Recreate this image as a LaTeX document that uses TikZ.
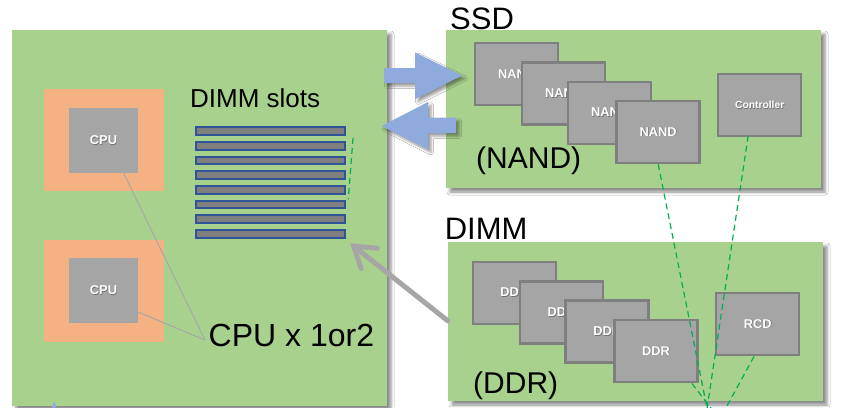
\documentclass[tikz,border=0pt]{standalone}
\usepackage{fontspec}
\setmainfont{Liberation Sans}
\usetikzlibrary{arrows.meta,shadows.blur,calc}

\definecolor{board}{HTML}{A9D18E}
\definecolor{socket}{HTML}{F4B183}
\definecolor{chipfill}{HTML}{A5A5A5}
\definecolor{chipline}{HTML}{7F7F7F}
\definecolor{slotline}{HTML}{2F5597}
\definecolor{slotfill}{HTML}{7F7F7F}
\definecolor{bus}{HTML}{8FAADC}
\definecolor{probe}{HTML}{00B050}
\definecolor{leader}{HTML}{A6A6A6}

% white chip label with a faint dark offset copy behind it
\newcommand\embossed[1]{\makebox[0pt][l]{\hspace{0.7pt}\raisebox{-0.7pt}{\textcolor{black!55}{#1}}}#1}

\begin{document}
\begin{tikzpicture}[x=1pt,y=-1pt,
  panel/.style={fill=board, draw=none, inner sep=0pt,
    blur shadow={shadow xshift=4pt, shadow yshift=-4pt, shadow blur radius=3pt, shadow opacity=45}},
  chip/.style={fill=chipfill, draw=chipline, line width=2.5pt, inner sep=0pt,
    minimum width=83pt, minimum height=62pt, text=white,
    font=\fontsize{12.8}{14}\selectfont\bfseries},
  cpucore/.style={fill=chipfill, draw=none, inner sep=0pt,
    minimum width=69pt, minimum height=65pt, text=white,
    font=\fontsize{12.8}{14}\selectfont\bfseries},
  socketbox/.style={fill=socket, draw=none, inner sep=0pt,
    minimum width=120pt, minimum height=102pt},
  slotbar/.style={fill=slotfill, draw=slotline, line width=2pt, inner sep=0pt,
    minimum width=149.3pt, minimum height=7.7pt},
  title/.style={anchor=base west, inner sep=0pt, font=\fontsize{31}{34}\selectfont},
  probeline/.style={draw=probe, line width=1.2pt, dash pattern=on 6pt off 4pt},
  leaderline/.style={draw=leader, line width=0.9pt},
  busarrow/.style={fill=bus, draw=none,
    blur shadow={shadow xshift=3pt, shadow yshift=-3pt, shadow blur radius=2.5pt, shadow opacity=40}}
]
\clip (0,0) rectangle (864,407);
\fill[white] (0,0) rectangle (864,407);

% ---- motherboard ----
\node[panel, minimum width=375pt, minimum height=376pt] (mb) at (199.5,218) {};
\node[socketbox] (sock1) at (104,140) {};
\node[socketbox] (sock2) at (104,290.5) {};
\node[cpucore] (cpu1) at (103.5,140.5) {\embossed{CPU}};
\node[cpucore] (cpu2) at (103.5,290.5) {\embossed{CPU}};

\node[title, font=\fontsize{26}{30}\selectfont] (slotlabel) at (190,107) {DIMM slots};
\foreach \i in {1,...,8}
  \node[slotbar] (slot\i) at (270.35,{131.15+(\i-1)*14.67}) {};

\node[title, font=\fontsize{32}{36}\selectfont] (cpucount) at (208.5,346.7) {CPU x 1or2};
\coordinate (leadjoin) at (205,340);
\draw[leaderline] ($(cpu1.south west)!0.79!(cpu1.south east)$) -- (leadjoin);
\draw[leaderline] ($(cpu2.north east)!0.83!(cpu2.south east)$) -- (leadjoin);

% small marker at the lower board edge
\fill[bus] (51.7,407.5) -- (54.2,401.5) -- (56.7,407.5) -- cycle;

% ---- SSD ----
\node[title] (ssdlabel) at (450,29) {SSD};
\node[panel, minimum width=375pt, minimum height=158pt] (ssd) at (633.5,109) {};
\node[chip] (nand1) at (516.5,74) {\embossed{NAND}};
\node[chip] (nand2) at (563.7,93.5) {\embossed{NAND}};
\node[chip] (nand3) at (609.7,112.8) {\embossed{NAND}};
\node[chip] (nand4) at (658.2,132) {\embossed{NAND}};
\node[chip, font=\fontsize{10.3}{12}\selectfont\bfseries] (ctrl) at (759.7,105) {\embossed{Controller}};
\node[title, font=\fontsize{30}{34}\selectfont] (nandnote) at (476,168.3) {(NAND)};

% ---- DIMM ----
\node[title] (dimmlabel) at (444.6,239) {DIMM};
\node[panel, minimum width=375pt, minimum height=159pt] (dimm) at (635.5,321.5) {};
\node[chip] (ddr1) at (514.3,292.8) {\embossed{DDR}};
\node[chip] (ddr2) at (561.5,312.5) {\embossed{DDR}};
\node[chip] (ddr3) at (607.2,331.7) {\embossed{DDR}};
\node[chip] (ddr4) at (655.9,351.2) {\embossed{DDR}};
\node[chip] (rcd) at (757.7,324.2) {\embossed{RCD}};
\node[title, font=\fontsize{30}{34}\selectfont] (ddrnote) at (473,393.3) {(DDR)};

% ---- host <-> SSD transfer arrows ----
\path[busarrow] (384,68) -- (415,68) -- (415,52.5) -- (462,75.5) -- (415,99)
  -- (415,83) -- (384,83) -- cycle;
\path[busarrow] (456,117.5) -- (428,117.5) -- (428,102) -- (381.7,126) -- (428,149.5)
  -- (428,133) -- (456,133) -- cycle;

% ---- DIMM goes into a slot ----
\coordinate (dimmtail) at (448,321);
\coordinate (slottip) at ($(slot8.south east)+(4,4.5)$);
\draw[draw=leader, line width=5pt, line cap=round,
  -{Straight Barb[length=20pt, width=26pt, line cap=round]}] (dimmtail) -- (slottip);

% ---- green probe lines ----
\coordinate (slotprobeA) at (353,138);
\coordinate (slotprobeB) at (348.3,199.3);
\draw[probeline] (slotprobeA) -- (slotprobeB);

\coordinate (nandfoot) at (709.4,420);
\coordinate (ctrlfoot) at (705.3,420);
\coordinate (rcdfoot) at (719.3,420);
\coordinate (ddrfoot) at (720.1,420);
\draw[probeline] (nand4.south) -- (nandfoot);
\draw[probeline] ($(ctrl.south)+(-11.5,-1.5)$) -- (ctrlfoot);
\draw[probeline] ($(rcd.south)+(-3.7,0)$) -- (rcdfoot);
\draw[probeline] ($(ddr4.south)+(36,0)$) -- (ddrfoot);
\end{tikzpicture}
\end{document}
